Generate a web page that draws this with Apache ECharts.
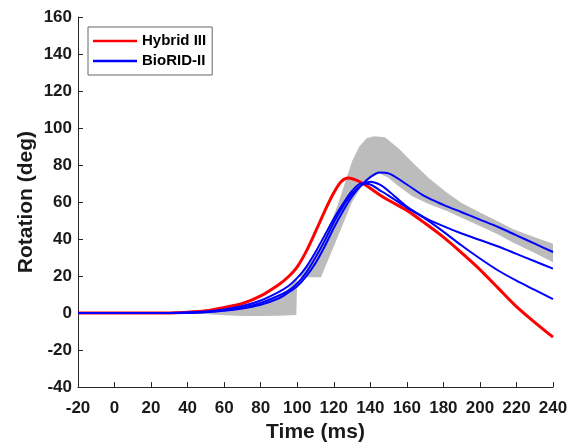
<!DOCTYPE html>
<html>
<head>
<meta charset="utf-8">
<script src="https://cdn.jsdelivr.net/npm/echarts@6/dist/echarts.min.js"></script>
<style>
  html, body { margin: 0; padding: 0; background: #fff; }
  #chart { width: 578px; height: 448px; }
</style>
</head>
<body>
<div id="chart"></div>
<script>
// corridor (grey band)
const upperTime = [40, 50, 60, 70, 80, 90, 95, 100, 107, 113, 118, 122, 126, 130, 134, 138, 142, 148, 156, 163, 172, 182, 190, 200, 210, 218, 230, 240];
const upperVal = [0, 0.3, 1, 2.5, 5, 9.5, 13, 19.5, 27, 37, 48, 58, 70, 82, 90, 94.5, 95.5, 95, 88.5, 81.5, 73, 65, 59.5, 54.3, 49.5, 45.5, 41, 37.5];
const lowerTime = [40, 50, 60, 70, 80, 90, 99.5, 100, 113, 120, 125, 130, 135, 140, 145, 150, 155, 163, 172, 182, 190, 200, 210, 218, 230, 240];
const lowerVal = [0, -0.5, -1.2, -1.6, -1.6, -1.5, -1, 19.4, 19.4, 36, 48, 60, 68, 73, 75.5, 73, 69, 63.2, 59, 55.2, 51.5, 47, 42.5, 38.1, 32.5, 27.5];

// Hybrid III
const hybridTime = [-20, 0, 20, 30, 40, 50, 60, 70, 80, 90, 95, 100, 105, 110, 115, 120, 124, 128, 132, 136, 140, 145, 150, 160, 170, 180, 190, 200, 210, 220, 230, 240];
const hybridVal = [0, 0, 0, 0.1, 0.4, 1.2, 3, 5.2, 9.3, 15.5, 19.5, 25, 33.5, 44, 55, 65, 71, 73, 72, 70, 67.5, 64, 61, 55.5, 48.5, 41, 32.5, 23.5, 13.5, 3.5, -5, -13];

// BioRID-II (three runs)
const bioTime = [-20, 0, 20, 40, 50, 60, 70, 80, 90, 95, 100, 105, 110, 115, 120, 125, 130, 135, 140, 145, 150, 160, 170, 180, 190, 200, 210, 220, 230, 240];
const bioA = [0, 0, 0, 0.2, 0.5, 1.2, 2.5, 4.5, 8, 11, 14.5, 20, 27, 36, 46, 55, 63, 69, 73.5, 76, 75.5, 69.5, 63, 58.5, 54.5, 50.5, 46.5, 42, 37.5, 33];
const bioB = [0, 0, 0, 0.2, 0.6, 1.5, 3, 5.5, 9.5, 12, 16, 22, 30, 39, 49, 57.5, 64.5, 69, 71, 69.5, 66, 57.5, 51.5, 47, 43, 39.5, 36, 32, 28, 24];
const bioC = [0, 0, 0, 0.3, 0.8, 2, 3.8, 6.8, 11.5, 14.5, 19, 25, 33, 42, 51, 59, 66, 70, 69.5, 66.5, 63.5, 57, 51, 44, 36.5, 29.5, 23, 17.5, 12.5, 7.5];

const zip = (t, v) => t.map((x, i) => [x, v[i]]);

const chart = echarts.init(document.getElementById('chart'));
const font = 'Liberation Sans, Arial, Helvetica, sans-serif';
const axisColor = '#262626';

const lineSeries = (name, t, v, color, width) => ({
  name,
  type: 'line',
  data: zip(t, v),
  symbol: 'none',
  smooth: 0.3,
  lineStyle: { color, width },
  itemStyle: { color },
  z: 3,
});

const option = {
  animation: false,
  grid: { left: 78, right: 25, top: 17, bottom: 60 },
  legend: {
    data: ['Hybrid III', 'BioRID-II'],
    orient: 'vertical',
    left: 88,
    top: 27,
    icon: 'rect',
    itemWidth: 44,
    itemHeight: 2.5,
    itemGap: 5,
    padding: [6.5, 6, 6.5, 5],
    borderColor: '#666',
    borderWidth: 1,
    backgroundColor: '#fff',
    textStyle: { fontFamily: font, fontSize: 15, fontWeight: 'bold', color: '#000', lineHeight: 15 },
  },
  xAxis: {
    type: 'value',
    min: -20,
    max: 240,
    interval: 20,
    name: 'Time (ms)',
    nameLocation: 'middle',
    nameGap: 34,
    nameTextStyle: { fontFamily: font, fontSize: 21, fontWeight: 'bold', color: '#1a1a1a' },
    axisLine: { onZero: false, lineStyle: { color: axisColor, width: 1 } },
    axisTick: { inside: true, length: 5, lineStyle: { color: axisColor } },
    axisLabel: { fontFamily: font, fontSize: 17, fontWeight: 'bold', color: '#1a1a1a', margin: 13 },
    splitLine: { show: false },
  },
  yAxis: {
    type: 'value',
    min: -40,
    max: 160,
    interval: 20,
    name: 'Rotation (deg)',
    nameLocation: 'middle',
    nameGap: 41,
    nameMoveOverlap: false,
    nameTextStyle: { fontFamily: font, fontSize: 21, fontWeight: 'bold', color: '#1a1a1a' },
    axisLine: { show: true, onZero: false, lineStyle: { color: axisColor, width: 1 } },
    axisTick: { show: true, inside: true, length: 5, lineStyle: { color: axisColor } },
    axisLabel: { fontFamily: font, fontSize: 17, fontWeight: 'bold', color: '#1a1a1a', margin: 6 },
    splitLine: { show: false },
  },
  series: [
    {
      name: 'Corridor',
      type: 'custom',
      clip: true,
      z: 1,
      data: [[upperTime[0], upperVal[0]]],
      renderItem: (params, api) => {
        const pts = [];
        for (let i = 0; i < upperTime.length; i++) pts.push(api.coord([upperTime[i], upperVal[i]]));
        for (let i = lowerTime.length - 1; i >= 0; i--) pts.push(api.coord([lowerTime[i], lowerVal[i]]));
        return { type: 'polygon', shape: { points: pts }, style: { fill: '#bcbcbc' } };
      },
    },
    lineSeries('Hybrid III', hybridTime, hybridVal, '#ff0000', 3),
    lineSeries('BioRID-II', bioTime, bioA, '#0000ff', 2),
    lineSeries('BioRID-II', bioTime, bioB, '#0000ff', 2),
    lineSeries('BioRID-II', bioTime, bioC, '#0000ff', 2),
  ],
};

chart.setOption(option);
</script>
</body>
</html>
